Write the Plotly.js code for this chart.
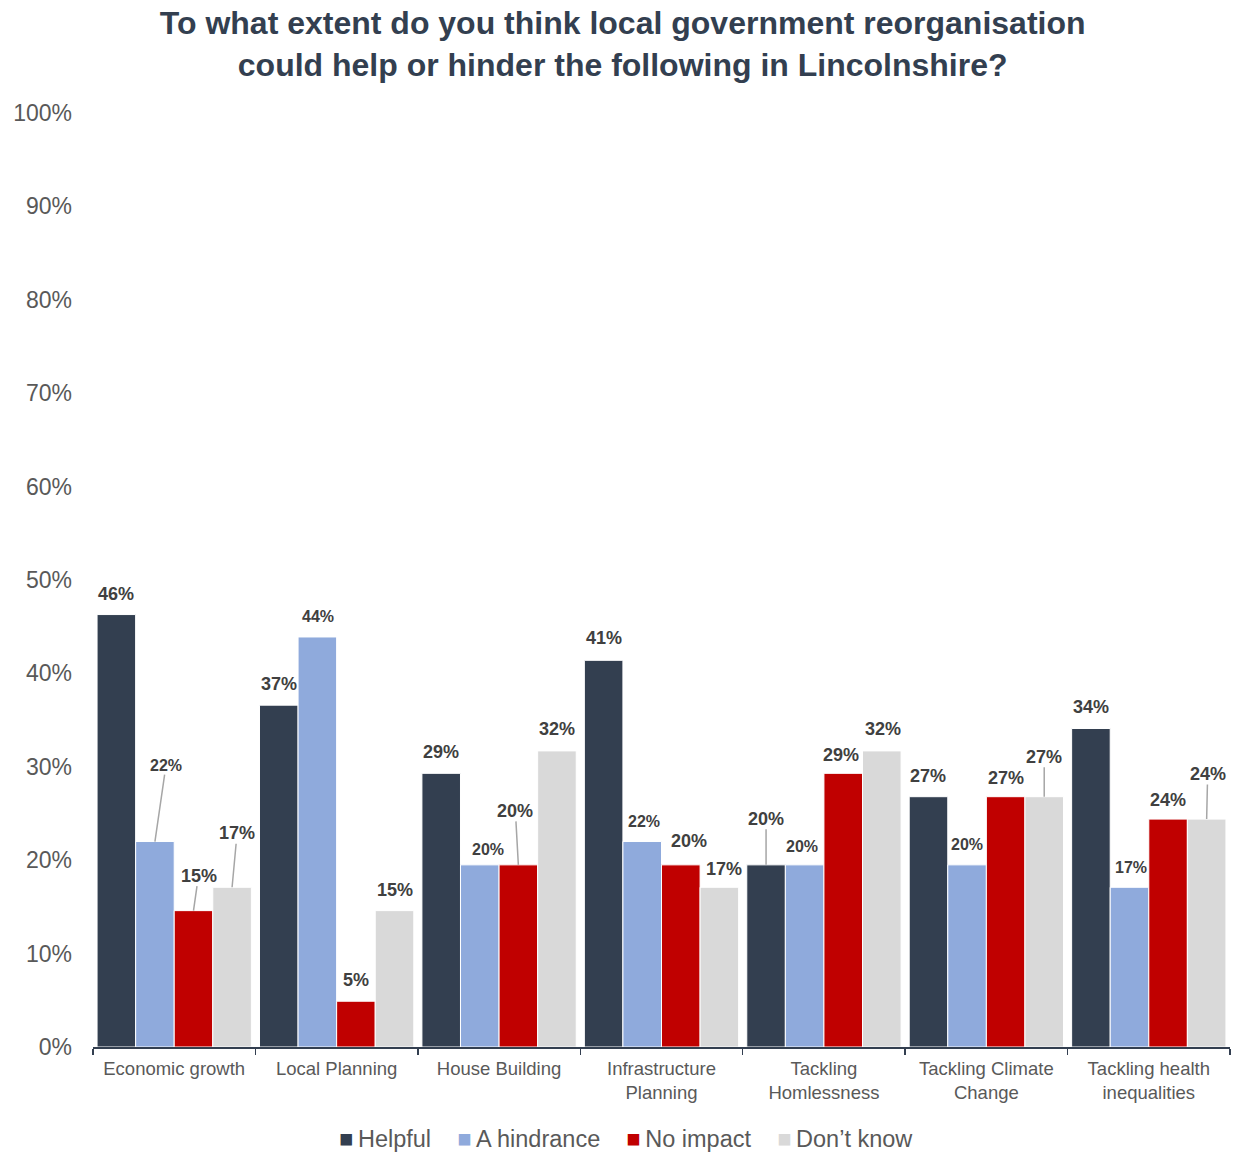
<!DOCTYPE html>
<html>
<head>
<meta charset="utf-8">
<script src="https://cdn.plot.ly/plotly-3.0.1.min.js"></script>
<style>html,body{margin:0;padding:0;background:#fff;}#chart{width:1233px;height:1153px;}</style>
</head>
<body>
<div id="chart"></div>
<script>
// ---- data (in %) ----
const categories = ["Economic growth", "Local Planning", "House Building", "Infrastructure<br>Planning", "Tackling<br>Homlessness", "Tackling Climate<br>Change", "Tackling health<br>inequalities"];
const seriesNames = ["Helpful", "A hindrance", "No impact", "Don\u2019t know"];
const helpful   = [46.3, 36.6, 29.3, 41.4, 19.5, 26.8, 34.1];
const hindrance = [22.0, 43.9, 19.5, 22.0, 19.5, 19.5, 17.1];
const noImpact  = [14.6, 4.9, 19.5, 19.5, 29.3, 26.8, 24.4];
const dontKnow  = [17.1, 14.6, 31.7, 17.1, 31.7, 26.8, 24.4];
const yTickVals = [0, 10, 20, 30, 40, 50, 60, 70, 80, 90, 100];

// ---- styles ----
const colors = ["#333F50", "#8FAADC", "#C00000", "#D9D9D9"];
const values = [helpful, hindrance, noImpact, dontKnow];
// label offsets in pixels [dx, dy, leader] from bar top
const labelOffsets = [
  [[0,-21,0],[0,-21,0],[0,-21,0],[0,-22,0],[0,-46,1],[0,-21,0],[0,-22,0]],
  [[11,-76,1],[1,-20,0],[8,-15,0],[2,-20,0],[-3,-18,0],[0,-20,0],[1,-20,0]],
  [[5,-35,1],[0,-21,0],[-3,-54,1],[8,-24,0],[-2,-18,0],[0,-19,0],[0,-19,0]],
  [[5,-54,1],[0,-21,0],[0,-22,0],[5,-18,0],[1,-22,0],[0,-40,1],[1,-45,1]]
];
const smallLabel = [0, 1, 0, 0]; // hindrance labels are smaller

const FONT = "Liberation Sans, Arial, sans-serif";
const bargap = 0.05;
const barW = (1 - bargap) / 4;

const traces = seriesNames.map((name, i) => ({
  type: "bar",
  name: name,
  x: categories,
  y: values[i],
  marker: {color: colors[i], line: {color: "#ffffff", width: 1}},
  hoverinfo: "skip",
  showlegend: false
}));

const annotations = [];
values.forEach((vals, i) => {
  vals.forEach((v, c) => {
    const off = labelOffsets[i][c];
    const big = !smallLabel[i];
    annotations.push({
      x: c + (i - 1.5) * barW,
      y: v,
      xref: "x", yref: "y",
      text: Math.round(v) + "%",
      showarrow: true,
      arrowhead: 0,
      arrowwidth: off[2] ? 1.5 : 0.1,
      arrowcolor: off[2] ? "#A6A6A6" : "rgba(0,0,0,0)",
      standoff: 0,
      ax: off[0], ay: off[1],
      font: {family: FONT, size: big ? 18 : 16, color: "#404040", weight: "bold"},
      borderpad: 0
    });
  });
});

// legend drawn as a single text line of coloured squares + names
const legendText = seriesNames.map((n, i) =>
  '<span style="color:' + colors[i] + '">\u25A0</span>\u2009' + n).join("    ");
annotations.push({
  xref: "paper", yref: "paper",
  x: 0.469, y: -0.098, xanchor: "center", yanchor: "middle",
  text: legendText, showarrow: false,
  font: {family: FONT, size: 23.5, color: "#595959"}
});

const layout = {
  width: 1233, height: 1153,
  paper_bgcolor: "#ffffff", plot_bgcolor: "#ffffff",
  margin: {l: 93, r: 3, t: 113, b: 106},
  font: {family: FONT, color: "#595959"},
  title: {
    text: "<b>To what extent do you think local government reorganisation<br>could help or hinder the following in Lincolnshire?</b>",
    font: {family: FONT, size: 32, color: "#333F50"},
    x: 0.505, xref: "container", xanchor: "center",
    y: 1 - 34 / 1153, yref: "container", yanchor: "middle"
  },
  barmode: "group",
  bargap: bargap,
  bargroupgap: 0,
  showlegend: false,
  xaxis: {
    type: "category",
    showline: true, linecolor: "#333F50", linewidth: 1.5,
    ticks: "outside", tickson: "boundaries", ticklen: 6, tickcolor: "#333F50", tickwidth: 1.5,
    tickfont: {size: 18.5, color: "#595959"},
    ticklabelstandoff: 4,
    showgrid: false, zeroline: false
  },
  yaxis: {
    range: [0, 100],
    tickvals: yTickVals,
    ticktext: yTickVals.map(v => v + "%"),
    showline: false, showgrid: false, zeroline: false,
    ticks: "", ticklabelstandoff: 20,
    tickfont: {size: 23, color: "#595959"}
  },
  annotations: annotations
};

Plotly.newPlot("chart", traces, layout, {staticPlot: true, displayModeBar: false});
</script>
</body>
</html>
